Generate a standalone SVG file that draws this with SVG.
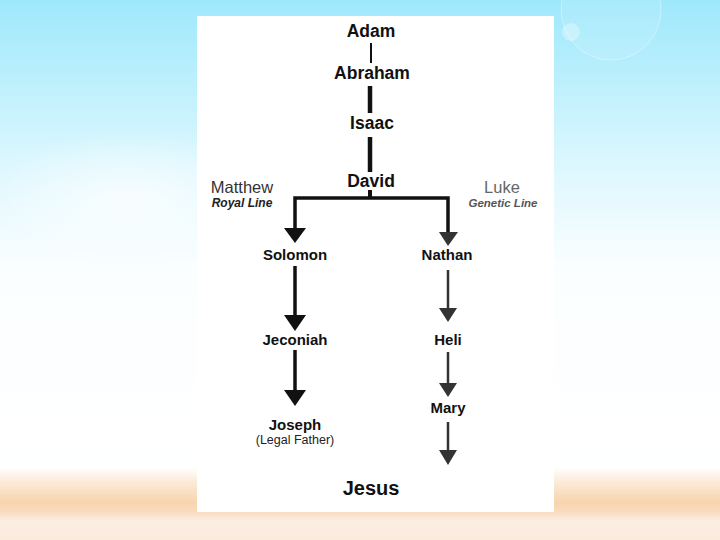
<svg xmlns="http://www.w3.org/2000/svg" width="720" height="540" viewBox="0 0 720 540">
<defs>
<linearGradient id="sky" x1="0" y1="0" x2="0" y2="1">
<stop offset="0" stop-color="#9fe8fc"/>
<stop offset="0.12" stop-color="#b6eefc"/>
<stop offset="0.3" stop-color="#dcf7fe"/>
<stop offset="0.5" stop-color="#fbfeff"/>
<stop offset="0.865" stop-color="#ffffff"/>
<stop offset="0.89" stop-color="#fcecdc"/>
<stop offset="0.93" stop-color="#f7d4ae"/>
<stop offset="0.948" stop-color="#f8dcc0"/>
<stop offset="0.965" stop-color="#fbeee2"/>
<stop offset="1" stop-color="#faebdd"/>
</linearGradient>
<radialGradient id="cloud" cx="0.5" cy="0.5" r="0.5">
<stop offset="0" stop-color="#ffffff" stop-opacity="0.7"/>
<stop offset="1" stop-color="#ffffff" stop-opacity="0"/>
</radialGradient>
<style>
.n{font-family:"Liberation Sans",Arial,sans-serif;font-weight:bold;fill:#111;text-anchor:middle}
.lbl{font-family:"Liberation Sans",Arial,sans-serif;text-anchor:middle}
.k{stroke:#111;fill:none}
.g{stroke:#333;fill:none}
.hk{fill:#111}
.hg{fill:#333}
</style>
</defs>
<rect x="0" y="0" width="720" height="540" fill="url(#sky)"/>
<ellipse cx="130" cy="200" rx="140" ry="70" fill="url(#cloud)"/>
<circle cx="611" cy="10" r="50" fill="#ffffff" fill-opacity="0.1" stroke="#ffffff" stroke-opacity="0.35" stroke-width="1"/>
<circle cx="571" cy="32" r="9" fill="#ffffff" fill-opacity="0.3"/>
<rect x="197" y="16" width="357" height="496" fill="#ffffff"/>

<g id="connectors">
<line class="k" x1="371" y1="43" x2="371" y2="63" stroke-width="2"/>
<line class="k" x1="370" y1="86" x2="370" y2="113" stroke-width="4.5"/>
<line class="k" x1="370" y1="137" x2="370" y2="172" stroke-width="4.5"/>
<line class="k" x1="370" y1="190" x2="370" y2="199" stroke-width="4"/>
<polyline class="k" points="295,229 295,198 448,198 448,233" stroke-width="3.5"/>
<polygon class="hk" points="284,228 306,228 295,243"/>
<polygon class="hg" points="439,232 458,232 448,246"/>
<line class="k" x1="295" y1="266" x2="295" y2="316" stroke-width="3.5"/>
<polygon class="hk" points="284,315 306,315 295,331"/>
<line class="g" x1="448" y1="270" x2="448" y2="309" stroke-width="2.5"/>
<polygon class="hg" points="439,308 457,308 448,322"/>
<line class="k" x1="295" y1="350" x2="295" y2="391" stroke-width="3.5"/>
<polygon class="hk" points="284,390 306,390 295,406"/>
<line class="g" x1="448" y1="352" x2="448" y2="384" stroke-width="2.5"/>
<polygon class="hg" points="439,383 457,383 448,397"/>
<line class="g" x1="448" y1="422" x2="448" y2="451" stroke-width="2.5"/>
<polygon class="hg" points="439,450 457,450 448,465"/>
</g>

<g id="adam"><text class="n" x="371" y="37" font-size="17.5">Adam</text></g>
<g id="abraham"><text class="n" x="372" y="79" font-size="17.5">Abraham</text></g>
<g id="isaac"><text class="n" x="372" y="129" font-size="17.5">Isaac</text></g>
<g id="david"><text class="n" x="371" y="187" font-size="17.5">David</text></g>
<g id="matthew">
<text class="lbl" x="242" y="193" font-size="16.5" fill="#333">Matthew</text>
<text class="lbl" x="242" y="207" font-size="12" font-weight="bold" font-style="italic" fill="#222">Royal Line</text>
</g>
<g id="luke">
<text class="lbl" x="502" y="193" font-size="16.5" fill="#666">Luke</text>
<text class="lbl" x="503" y="207" font-size="11.5" font-weight="bold" font-style="italic" fill="#555">Genetic Line</text>
</g>
<g id="solomon"><text class="n" x="295" y="260" font-size="15">Solomon</text></g>
<g id="nathan"><text class="n" x="447" y="260" font-size="15">Nathan</text></g>
<g id="jeconiah"><text class="n" x="295" y="345" font-size="15">Jeconiah</text></g>
<g id="heli"><text class="n" x="448" y="345" font-size="15">Heli</text></g>
<g id="mary"><text class="n" x="448" y="413" font-size="15">Mary</text></g>
<g id="joseph">
<text class="n" x="295" y="430" font-size="15">Joseph</text>
<text class="lbl" x="295" y="444" font-size="12.5" fill="#222">(Legal Father)</text>
</g>
<g id="jesus"><text class="n" x="371" y="495" font-size="20">Jesus</text></g>
</svg>
